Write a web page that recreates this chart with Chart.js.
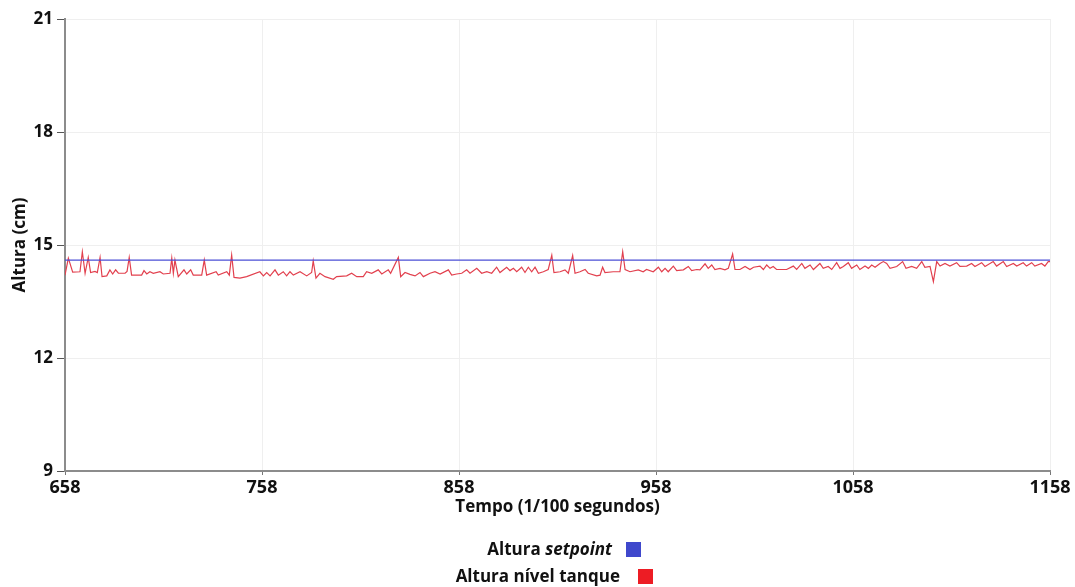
<!DOCTYPE html>
<html>
<head>
<meta charset="utf-8">
<script src="https://cdn.jsdelivr.net/npm/chart.js@4/dist/chart.umd.min.js"></script>
<style>
body{margin:0;background:#fff;font-family:"Open Sans",sans-serif;}
#wrap{position:relative;width:1075px;height:587px;}
.leg{position:absolute;font-weight:bold;font-size:17px;color:#111;white-space:nowrap;line-height:20px;}
.box{position:absolute;width:15px;height:15px;}
</style>
</head>
<body>
<div id="wrap">
<canvas id="chart" width="1075" height="587"></canvas>
<div class="leg" style="right:463px;top:539px;">Altura <i>setpoint</i></div>
<div class="box" style="left:626px;top:542px;background:#3f48cc;"></div>
<div class="leg" style="right:455px;top:566px;">Altura nível tanque</div>
<div class="box" style="left:638px;top:569px;background:#ed1c24;"></div>
</div>
<script>

// valores
const tempo=[658,659.7,661.9,665.6,666.8,668.2,669.8,671.0,673.2,674.4,675.8,676.8,679.2,680.8,682.2,683.7,685.1,688.5,689.5,690.6,
691.8,696.9,698.1,699.5,701.1,702.8,706.2,707.9,711.3,712.2,713.0,713.8,715.5,718.4,719.8,721.8,723.1,727.4,728.7,729.9,
734.7,735.8,740.1,741.4,742.6,743.8,746.8,750.2,756.9,758.7,760.4,762.1,764.6,766.3,768.8,770.5,772.2,773.9,777.3,780.7,
783.2,784.0,785.4,787.4,790.0,794.2,795.9,801.0,803.5,806.1,809.4,811.1,813.7,817.0,818.8,822.1,823.3,827.2,828.4,830.6,
833.1,835.7,838.2,839.9,843.3,845.8,848.4,852.6,854.3,856.8,859.4,861.9,863.6,867.0,869.5,872.1,874.6,877.1,878.8,882.2,
883.9,885.6,887.3,889.8,891.5,893.2,894.9,896.6,898.3,900.8,903.3,905.1,906.2,909.3,911.8,913.5,915.7,916.9,919.4,922.0,
923.6,927.9,929.6,930.9,932.1,936.3,939.7,941.1,942.3,944.8,949.0,951.5,953.2,956.6,959.2,960.9,962.6,964.2,966.8,968.5,
971.9,974.4,976.1,978.7,980.3,982.9,984.5,986.3,987.9,990.5,993.0,994.7,996.9,998.1,1000.6,1003.2,1005.7,1007.5,1010.8,1012.5,
1014.2,1015.9,1017.5,1019.2,1024.3,1027.7,1029.4,1032.0,1033.6,1036.2,1037.9,1041.2,1042.9,1045.4,1047.2,1049.7,1051.4,1053.1,1055.6,1057.3,
1059.9,1061.5,1064.1,1065.8,1067.5,1069.2,1071.7,1073.4,1075.1,1076.8,1080.2,1083.2,1084.9,1087.8,1090.3,1092.9,1094.5,1097.1,1098.8,1100.5,
1102.2,1104.7,1107.2,1110.6,1112.3,1115.7,1118.2,1119.9,1123.3,1125.0,1129.2,1130.9,1134.3,1136.0,1139.4,1141.1,1144.4,1146.1,1148.7,1150.3,
1153.7,1155.4,1157.1,1158];

const nivel=[14.20,14.65,14.28,14.29,14.82,14.25,14.67,14.27,14.30,14.27,14.67,14.16,14.18,14.34,14.23,14.34,14.25,14.25,14.30,14.67,
14.20,14.20,14.32,14.23,14.29,14.25,14.29,14.23,14.25,14.65,14.25,14.60,14.16,14.34,14.23,14.34,14.20,14.20,14.60,14.20,
14.29,14.20,14.29,14.20,14.73,14.14,14.12,14.16,14.29,14.18,14.27,14.18,14.34,14.20,14.29,14.18,14.29,14.20,14.29,14.18,
14.27,14.58,14.12,14.25,14.16,14.09,14.16,14.18,14.25,14.16,14.16,14.29,14.25,14.34,14.23,14.34,14.25,14.67,14.16,14.27,
14.22,14.18,14.27,14.16,14.25,14.29,14.23,14.34,14.20,14.23,14.25,14.34,14.25,14.38,14.25,14.29,14.25,14.41,14.27,14.41,
14.32,14.38,14.29,14.41,14.27,14.41,14.29,14.41,14.25,14.29,14.35,14.73,14.27,14.29,14.34,14.25,14.72,14.25,14.29,14.35,
14.25,14.18,14.20,14.41,14.27,14.29,14.29,14.82,14.35,14.29,14.34,14.29,14.35,14.29,14.41,14.29,14.38,14.29,14.44,14.32,
14.34,14.43,14.32,14.35,14.34,14.50,14.38,14.47,14.35,14.38,14.34,14.38,14.76,14.35,14.35,14.43,14.35,14.41,14.44,14.35,
14.47,14.38,14.43,14.35,14.35,14.44,14.35,14.51,14.38,14.47,14.35,14.51,14.38,14.43,14.35,14.53,14.38,14.43,14.53,14.38,
14.47,14.35,14.44,14.38,14.47,14.41,14.51,14.56,14.51,14.38,14.43,14.56,14.38,14.43,14.38,14.56,14.41,14.43,14.03,14.56,
14.44,14.51,14.44,14.53,14.43,14.44,14.51,14.43,14.53,14.43,14.56,14.44,14.56,14.43,14.51,14.44,14.53,14.44,14.53,14.44,
14.51,14.44,14.56,14.56];

const setpointTempo=[658,1158];
const setpointValor=[14.6,14.6];

const xTicks=[658,758,858,958,1058,1158];
const yTicks=[9,12,15,18,21];

const pts=(xs,ys)=>xs.map((x,i)=>({x:x,y:ys[i]}));

new Chart(document.getElementById("chart"),{
type:"line",
data:{
datasets:[{
label:"Altura setpoint",
data:pts(setpointTempo,setpointValor),
borderColor:"#4b4fd6",
borderWidth:1.2,
pointRadius:0,
tension:0
},{
label:"Altura nível tanque",
data:pts(tempo,nivel),
borderColor:"#e2404e",
borderWidth:1.2,
pointRadius:0,
tension:0
}]
},
options:{
responsive:false,
animation:false,
layout:{padding:{left:0,right:25,top:19,bottom:56}},
plugins:{legend:{display:false},tooltip:{enabled:false}},
scales:{
x:{
type:"linear",
min:658,max:1158,
afterBuildTicks:s=>{s.ticks=xTicks.map(v=>({value:v}));},
afterFit:s=>{s.height=60;},
grid:{color:"#efefef",lineWidth:1,tickLength:4,tickColor:"#777"},
border:{color:"#8c8c8c",width:2},
ticks:{color:"#111",padding:2,maxRotation:0,callback:v=>String(v),font:{family:"Open Sans",weight:"bold",size:18}},
title:{display:true,text:"Tempo (1/100 segundos)",color:"#111",padding:{top:0,bottom:14},font:{family:"Open Sans",weight:"bold",size:17}}
},
y:{
min:9,max:21,
afterBuildTicks:s=>{s.ticks=yTicks.map(v=>({value:v}));},
afterFit:s=>{s.width=65;},
grid:{color:"#efefef",lineWidth:1,tickLength:8,tickColor:"#555"},
border:{color:"#8c8c8c",width:2},
ticks:{color:"#111",padding:4,callback:v=>String(v),font:{family:"Open Sans",weight:"bold",size:17}},
title:{display:true,text:"Altura (cm)",color:"#111",padding:{top:10,bottom:0},font:{family:"Open Sans",weight:"bold",size:17}}
}
}
}
});

</script>
</body>
</html>
